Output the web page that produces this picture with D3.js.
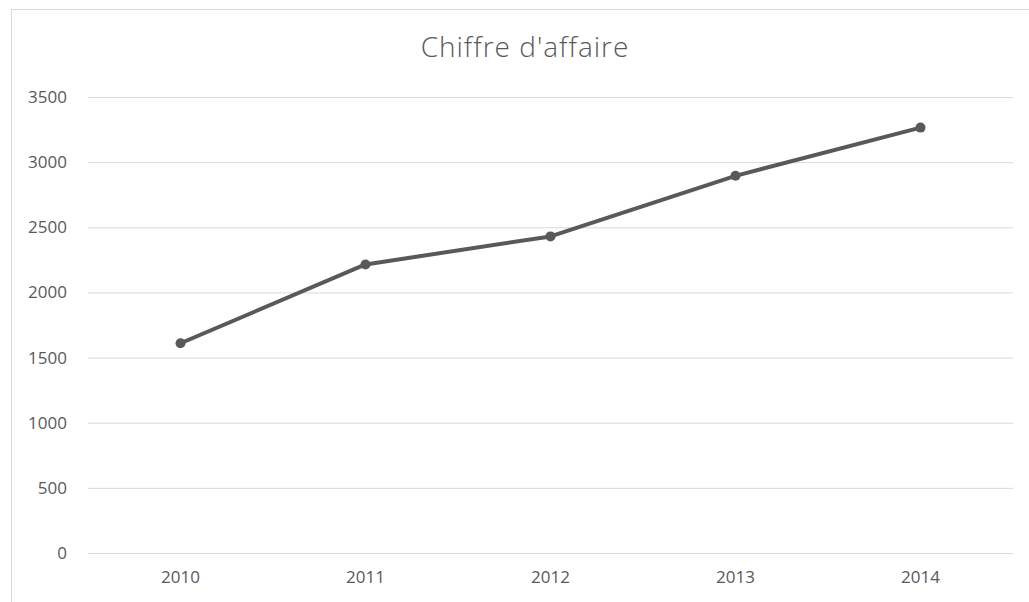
<!DOCTYPE html>
<html><head><meta charset="utf-8">
<script src="https://cdn.jsdelivr.net/npm/d3@7"></script>
<style>
html,body{margin:0;padding:0;background:#fff;}
svg{display:block;}
</style></head>
<body>
<svg id="chart" width="1029" height="602"></svg>
<script>
const title = "Chiffre d'affaire";
const years = ["2010","2011","2012","2013","2014"];
const values = [1610, 2215, 2430, 2895, 3265];
const yTicks = [0,500,1000,1500,2000,2500,3000,3500];

const svg = d3.select("#chart");
const W = 1029, H = 602;
const m = {left:88, right:16, top:97, bottom:49};

// chart border
svg.append("rect").attr("x",11.5).attr("y",9.5).attr("width",1040).attr("height",620)
  .attr("fill","#fff").attr("stroke","#d9d9d9").attr("stroke-width",1);

const x = d3.scaleBand().domain(years).range([m.left, W - m.right]);
const y = d3.scaleLinear().domain([0,3500]).range([H - m.bottom, m.top]);

const font = "'Open Sans', 'Noto Sans', sans-serif";

// gridlines
const yAxis = d3.axisLeft(y).tickValues(yTicks).tickFormat(d3.format("d"))
  .tickSize(-(W - m.right - m.left)).tickPadding(21);
const gy = svg.append("g").attr("transform",`translate(${m.left},0)`).call(yAxis);
gy.select(".domain").remove();
gy.selectAll(".tick line").attr("stroke","#d9d9d9").attr("stroke-width",1);
gy.selectAll(".tick text").attr("fill","#595959").style("font-family",font).style("font-size","17px");

const xAxis = d3.axisBottom(x).tickSize(0).tickPadding(18);
const gx = svg.append("g").attr("transform",`translate(0,${H - m.bottom})`).call(xAxis);
gx.select(".domain").remove();
gx.selectAll(".tick text").attr("fill","#595959").style("font-family",font).style("font-size","17px");

const line = d3.line().x((d,i)=>x(years[i]) + x.bandwidth()/2).y(d=>y(d));
svg.append("path").datum(values).attr("d",line).attr("fill","none")
  .attr("stroke","#595959").attr("stroke-width",4).attr("stroke-linejoin","round").attr("stroke-linecap","round");

svg.selectAll("circle.pt").data(values).join("circle").attr("class","pt")
  .attr("cx",(d,i)=>x(years[i]) + x.bandwidth()/2).attr("cy",d=>y(d)).attr("r",5)
  .attr("fill","#595959");

svg.append("text").attr("x",525).attr("y",57).attr("text-anchor","middle")
  .attr("fill","#595959").style("font-family",font).style("font-weight",300).style("font-size","28px")
  .style("letter-spacing","1px")
  .text(title);
</script>
</body></html>
